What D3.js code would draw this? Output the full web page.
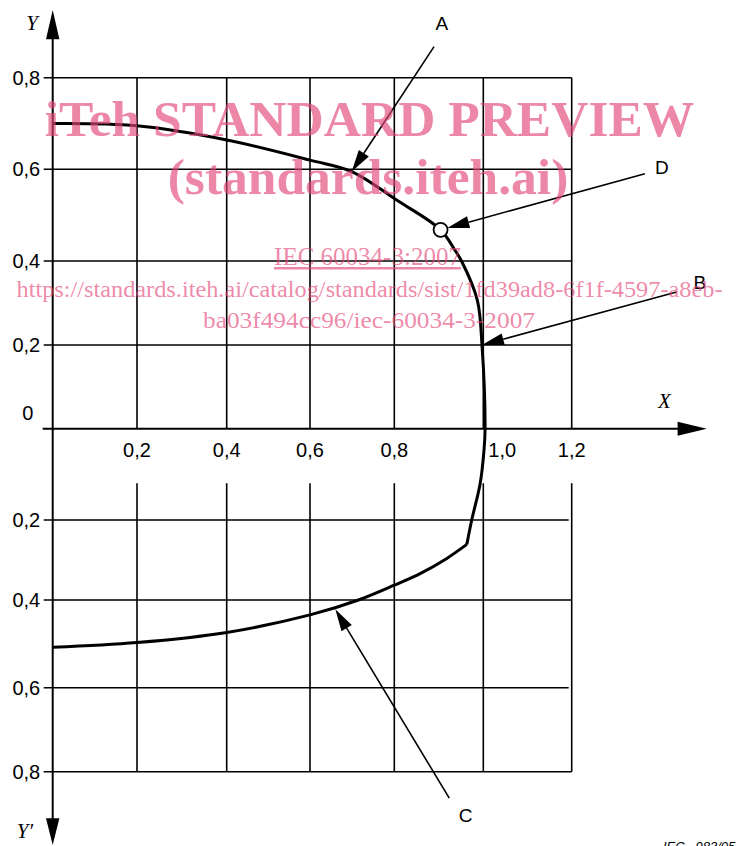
<!DOCTYPE html>
<html>
<head>
<meta charset="utf-8">
<script src="https://cdn.jsdelivr.net/npm/d3@7"></script>
<style>
body { margin: 0; background: #fff; }
svg { display: block; }
.tick-label { font-family: "Liberation Sans", Arial, sans-serif; font-size: 20px; fill: #000; }
.axis-name { font-family: "Liberation Serif", "Times New Roman", serif; font-style: italic; font-size: 21px; fill: #000; }
.note { font-family: "Liberation Sans", Arial, sans-serif; font-size: 19px; fill: #000; }
.wm { fill: rgb(228, 70, 120); fill-opacity: 0.65; font-family: "Liberation Serif", "Times New Roman", serif; }
</style>
</head>
<body>
<div id="chart"></div>
<script>
// Grid values of the drawing
var xGrid = [0, 0.2, 0.4, 0.6, 0.8, 1.0, 1.2];
var yGrid = [-0.8, -0.6, -0.4, -0.2, 0, 0.2, 0.4, 0.6, 0.8];
var xTicks = [0.2, 0.4, 0.6, 0.8, 1.0, 1.2];
var xTickLabels = ["0,2", "0,4", "0,6", "0,8", "1,0", "1,2"];
var yTicksUp = [0.2, 0.4, 0.6, 0.8];
var yTicksDown = [-0.2, -0.4, -0.6, -0.8];
var yTickLabels = ["0,2", "0,4", "0,6", "0,8"];

// The limit curve (x, y)
var curveUpper = [[0, 0.70], [0.2, 0.695], [0.4, 0.664], [0.6, 0.620], [0.699, 0.595],
    [0.805, 0.533], [0.904, 0.468], [0.936, 0.424], [0.951, 0.40], [0.9865, 0.307],
    [0.997, 0.2], [1.004, 0], [1.0016, -0.047], [0.993, -0.12], [0.974, -0.2], [0.963, -0.261]];
var curveLower = [[0.963, -0.261], [0.918, -0.296], [0.858, -0.334], [0.8, -0.363],
    [0.715, -0.40], [0.6, -0.434], [0.4, -0.474], [0.2, -0.497], [0, -0.508]];

// Rated point D and the labelled points on the curve
var ratedPoint = [0.904, 0.468];
var notes = ["A", "B", "C", "D"];
var noteTargets = [[0.699, 0.595], [0.997, 0.2], [0.66, -0.421], [0.904, 0.468]];

var width = 751, height = 846;

var svg = d3.select("#chart").append("svg")
    .attr("width", width)
    .attr("height", height);

// The original grid is not evenly spaced, so the scales are piecewise
var x = d3.scaleLinear().domain(xGrid).range([52.7, 137, 226.7, 310, 394.3, 483.3, 571.7]);
var y = d3.scaleLinear().domain(yGrid).range([771.7, 687.7, 600, 520, 428.7, 345, 261, 169.3, 77.7]);

var grid = svg.append("g")
    .attr("stroke", "#000")
    .attr("stroke-width", 1.6);

// upper half
grid.selectAll("line.vu").data(xTicks).enter().append("line")
    .attr("class", "vu")
    .attr("x1", d => x(d)).attr("x2", d => x(d))
    .attr("y1", y(0.8)).attr("y2", y(0));
grid.selectAll("line.hu").data(yTicksUp).enter().append("line")
    .attr("class", "hu")
    .attr("x1", x(0) - 9).attr("x2", x(1.2))
    .attr("y1", d => y(d)).attr("y2", d => y(d));

// lower half, the verticals leave room for the tick labels
grid.selectAll("line.vd").data(xTicks).enter().append("line")
    .attr("class", "vd")
    .attr("x1", d => x(d)).attr("x2", d => x(d))
    .attr("y1", y(0) + 54.6).attr("y2", y(-0.8));
grid.selectAll("line.hd").data(yTicksDown).enter().append("line")
    .attr("class", "hd")
    .attr("x1", x(0) - 9).attr("x2", (d, i) => x(1.2) - (i % 2 == 0 ? 3 : 0))
    .attr("y1", d => y(d)).attr("y2", d => y(d));

// Axes with arrows
var axes = svg.append("g");
axes.append("line")
    .attr("x1", x(0) - 10).attr("x2", 680)
    .attr("y1", y(0)).attr("y2", y(0))
    .attr("stroke", "#000").attr("stroke-width", 2);
axes.append("line")
    .attr("x1", x(0)).attr("x2", x(0))
    .attr("y1", 38).attr("y2", 820)
    .attr("stroke", "#000").attr("stroke-width", 2);
axes.append("path")
    .attr("d", "M" + 706.8 + "," + y(0) + "L" + 677.6 + "," + (y(0) - 7) + "L" + 677.6 + "," + (y(0) + 7) + "Z");
axes.append("path")
    .attr("d", "M" + x(0) + ",10L" + (x(0) - 6.7) + ",39.3L" + (x(0) + 6.7) + ",39.3Z");
axes.append("path")
    .attr("d", "M" + x(0) + ",845L" + (x(0) - 6.7) + ",818.3L" + (x(0) + 6.7) + ",818.3Z");

// Tick labels
svg.selectAll("text.xt").data(xTicks).enter().append("text")
    .attr("class", "tick-label xt")
    .attr("x", (d, i) => d == 1.0 ? x(d) + 5 : x(d))
    .attr("y", y(0) + 21)
    .attr("dy", "0.35em")
    .attr("text-anchor", d => d == 1.0 ? "start" : "middle")
    .text((d, i) => xTickLabels[i]);
svg.selectAll("text.yu").data(yTicksUp).enter().append("text")
    .attr("class", "tick-label yu")
    .attr("x", x(0) - 12.5)
    .attr("y", d => y(d))
    .attr("dy", "0.35em")
    .attr("text-anchor", "end")
    .text((d, i) => yTickLabels[i]);
svg.selectAll("text.yd").data(yTicksDown).enter().append("text")
    .attr("class", "tick-label yd")
    .attr("x", x(0) - 12.5)
    .attr("y", d => y(d))
    .attr("dy", "0.35em")
    .attr("text-anchor", "end")
    .text((d, i) => yTickLabels[i]);
svg.append("text")
    .attr("class", "tick-label")
    .attr("x", x(0) - 25).attr("y", y(0) - 15.4)
    .attr("dy", "0.35em")
    .attr("text-anchor", "middle")
    .text("0");

// Axis names
svg.append("text").attr("class", "axis-name")
    .attr("x", 32).attr("y", 30).attr("text-anchor", "middle").text("Y");
svg.append("text").attr("class", "axis-name")
    .attr("x", 25).attr("y", 838.3).attr("text-anchor", "middle").text("Y\u2032");
svg.append("text").attr("class", "axis-name")
    .attr("x", 664.4).attr("y", 408).attr("text-anchor", "middle").text("X");

// The curve
var line = d3.line()
    .x(d => x(d[0]))
    .y(d => y(d[1]))
    .curve(d3.curveCatmullRom.alpha(0.5));

svg.selectAll("path.curve").data([curveUpper, curveLower]).enter().append("path")
    .attr("class", "curve")
    .attr("d", line)
    .attr("fill", "none")
    .attr("stroke", "#000")
    .attr("stroke-width", 3)
    .attr("stroke-linejoin", "miter");

var dotR = 7;
svg.append("circle")
    .attr("cx", x(ratedPoint[0]))
    .attr("cy", y(ratedPoint[1]))
    .attr("r", dotR)
    .attr("fill", "#fff")
    .attr("stroke", "#000")
    .attr("stroke-width", 1.8);

// Leader lines: offsets (pixels) of the line start and of the letter from the target
var leaderStart = [[82.3, -125], [194.6, -53], [114, 189], [204.3, -56]];
var letterPos = [[90, -148.4], [218, -62.3], [130.3, 206.4], [221.3, -62]];

var leaders = svg.append("g");
notes.forEach(function(n, i) {
    var tx = x(noteTargets[i][0]), ty = y(noteTargets[i][1]);
    var sx = tx + leaderStart[i][0], sy = ty + leaderStart[i][1];
    var dx = sx - tx, dy = sy - ty, len = Math.sqrt(dx * dx + dy * dy);
    var ux = dx / len, uy = dy / len;
    if (n == "D") { tx += ux * dotR; ty += uy * dotR; }
    var hl = 22, hw = 6;
    var bx = tx + ux * hl, by = ty + uy * hl;
    leaders.append("line")
	.attr("x1", sx).attr("y1", sy)
	.attr("x2", bx).attr("y2", by)
	.attr("stroke", "#000").attr("stroke-width", 1.6);
    leaders.append("path")
	.attr("d", "M" + tx + "," + ty +
	      "L" + (bx - uy * hw) + "," + (by + ux * hw) +
	      "L" + (bx + uy * hw) + "," + (by - ux * hw) + "Z")
	.attr("fill", "#000");
    svg.append("text")
	.attr("class", "note")
	.attr("x", x(noteTargets[i][0]) + letterPos[i][0])
	.attr("y", y(noteTargets[i][1]) + letterPos[i][1])
	.attr("dy", "0.35em")
	.attr("text-anchor", "middle")
	.text(n);
});

// Figure number, cut by the page edge
svg.append("text")
    .attr("x", 663).attr("y", 851)
    .attr("font-family", "Liberation Sans, Arial, sans-serif")
    .attr("font-style", "italic")
    .attr("font-size", 13)
    .attr("xml:space", "preserve")
    .text("IEC   983/05");

// Preview watermark on top
var wm = svg.append("g").attr("class", "wm").attr("text-anchor", "middle");
wm.append("text")
    .attr("x", 369.5).attr("y", 136)
    .attr("font-size", 51.5).attr("font-weight", "bold")
    .text("iTeh STANDARD PREVIEW");
wm.append("text")
    .attr("x", 368).attr("y", 194)
    .attr("font-size", 51.5).attr("font-weight", "bold")
    .text("(standards.iteh.ai)");
wm.append("text")
    .attr("x", 367.5).attr("y", 265)
    .attr("font-size", 25)
    .attr("text-decoration", "underline")
    .text("IEC 60034-3:2007");
wm.append("text")
    .attr("x", 369.5).attr("y", 297)
    .attr("font-size", 24)
    .attr("textLength", 706)
    .attr("lengthAdjust", "spacingAndGlyphs")
    .text("https://standards.iteh.ai/catalog/standards/sist/1fd39ad8-6f1f-4597-a8eb-");
wm.append("text")
    .attr("x", 369).attr("y", 328)
    .attr("font-size", 24)
    .attr("textLength", 332)
    .attr("lengthAdjust", "spacingAndGlyphs")
    .text("ba03f494cc96/iec-60034-3-2007");
</script>
</body>
</html>
